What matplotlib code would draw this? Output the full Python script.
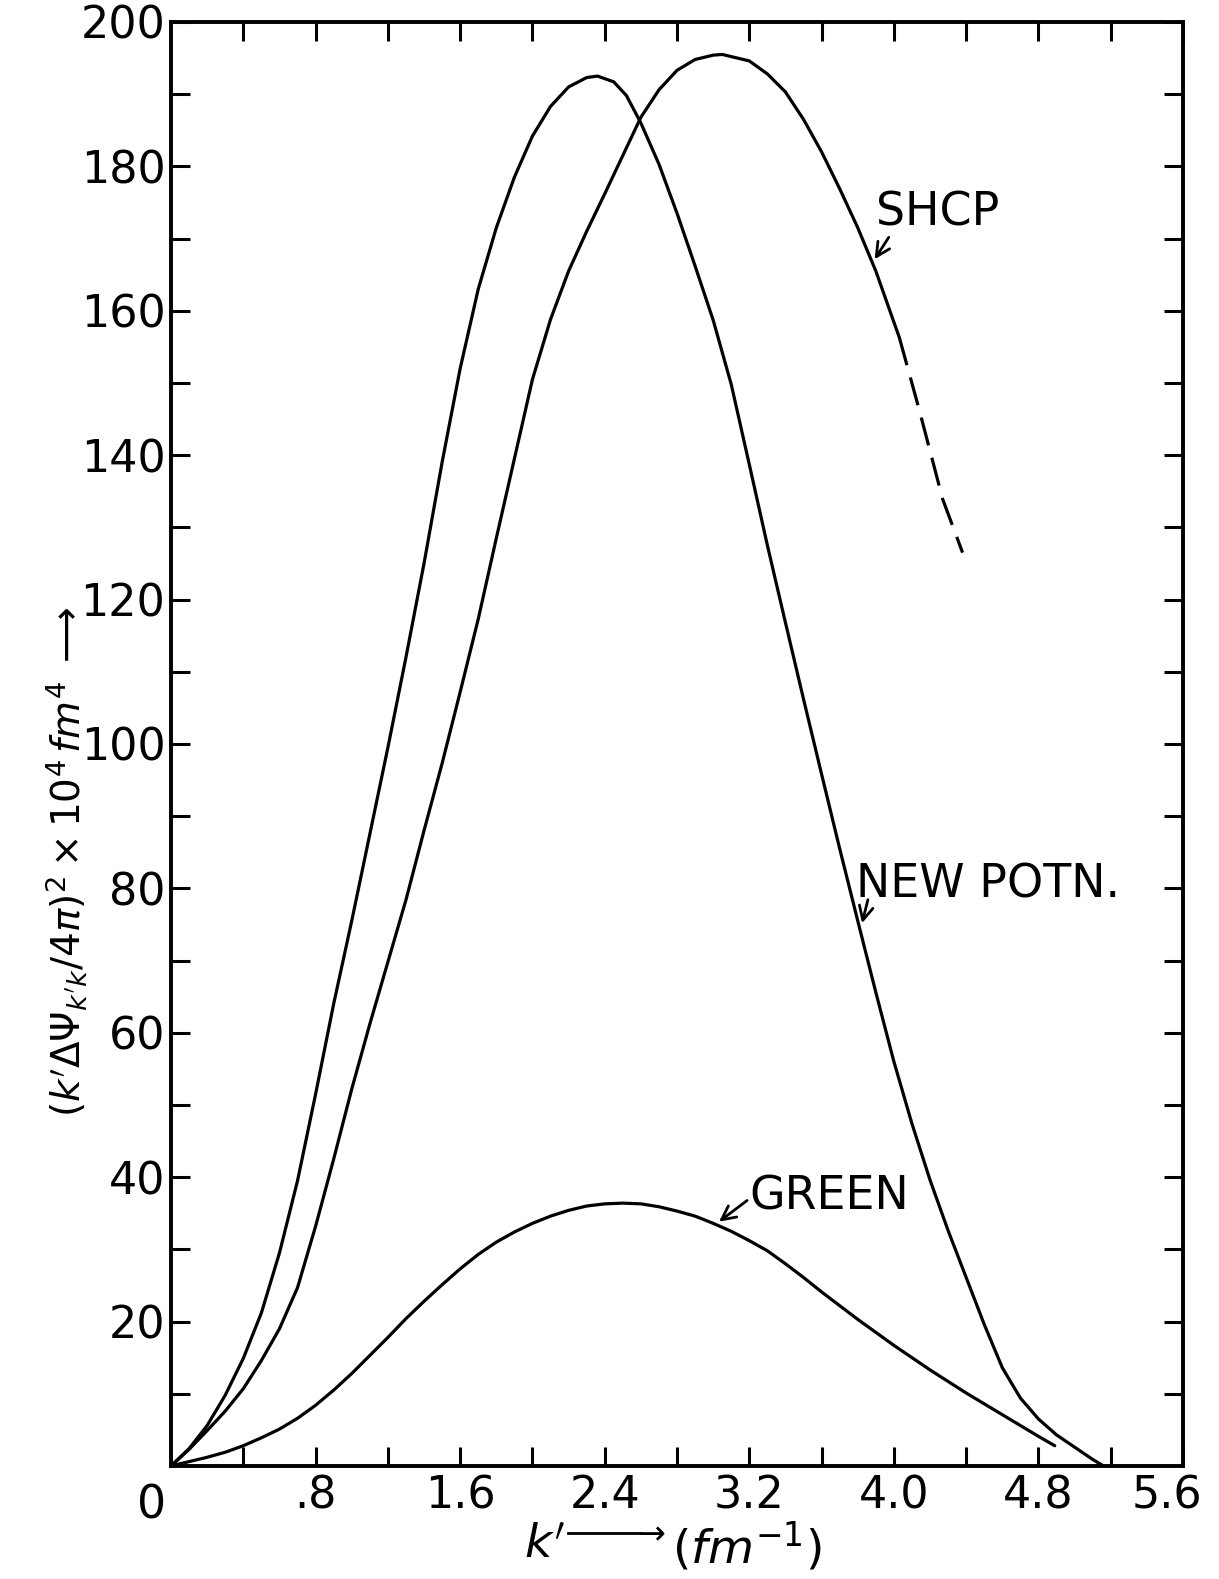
import matplotlib
matplotlib.use('Agg')
import matplotlib.pyplot as plt
from matplotlib.transforms import ScaledTranslation

# curves (k' in fm^-1, value x 10^4 fm^4)
new_k = [0, 0.1, 0.2, 0.3, 0.4, 0.5, 0.6, 0.7, 0.8, 0.9, 1.0, 1.1, 1.2, 1.3, 1.4, 1.5,
         1.6, 1.7, 1.8, 1.9, 2.0, 2.1, 2.2, 2.3, 2.36, 2.45, 2.52, 2.6, 2.7, 2.8, 2.9,
         3.0, 3.1, 3.2, 3.3, 3.4, 3.5, 3.6, 3.7, 3.8, 3.9, 4.0, 4.1, 4.2, 4.3, 4.4,
         4.5, 4.6, 4.7, 4.8, 4.9, 5.0, 5.1, 5.16]
new_v = [0, 2.4, 5.6, 9.8, 14.9, 21.2, 29.5, 39.5, 51.5, 64.0, 75.5, 87.5, 99.5, 112.0,
         125.0, 139.0, 152.0, 163.0, 171.5, 178.5, 184.2, 188.3, 191.0, 192.3, 192.5,
         191.7, 189.8, 186.0, 180.3, 173.5, 166.2, 158.7, 149.8, 138.7, 127.5, 116.8,
         106.2, 95.8, 85.5, 75.5, 65.6, 56.0, 47.4, 39.6, 32.6, 26.1, 19.6, 13.6, 9.4,
         6.5, 4.3, 2.6, 0.9, 0]

shcp_k = [0, 0.1, 0.2, 0.3, 0.4, 0.5, 0.6, 0.7, 0.8, 0.9, 1.0, 1.1, 1.2, 1.3, 1.4, 1.5,
          1.6, 1.7, 1.8, 1.9, 2.0, 2.1, 2.2, 2.3, 2.4, 2.5, 2.6, 2.7, 2.8, 2.9, 3.0,
          3.05, 3.2, 3.3, 3.4, 3.5, 3.6, 3.7, 3.8, 3.9, 4.03]
shcp_v = [0, 2.3, 4.9, 7.6, 10.7, 14.6, 19.0, 24.7, 33.2, 42.5, 52.2, 61.2, 69.8, 78.4,
          88.0, 97.3, 107.2, 117.3, 128.5, 139.5, 150.5, 158.8, 165.5, 171.0, 176.2,
          181.5, 186.8, 190.6, 193.3, 194.8, 195.4, 195.5, 194.6, 192.8, 190.3, 186.5,
          182.0, 176.9, 171.5, 165.5, 156.3]
# extrapolated (dashed) part of SHCP
shcp_dash_k = [4.03, 4.14, 4.27, 4.38]
shcp_dash_v = [156.3, 146.3, 133.9, 126.5]

green_k = [0, 0.1, 0.2, 0.3, 0.4, 0.5, 0.6, 0.7, 0.8, 0.9, 1.0, 1.1, 1.2, 1.3, 1.4, 1.5,
           1.6, 1.7, 1.8, 1.9, 2.0, 2.1, 2.2, 2.3, 2.4, 2.5, 2.6, 2.7, 2.8, 2.9, 3.0,
           3.1, 3.2, 3.3, 3.4, 3.5, 3.6, 3.7, 3.8, 3.9, 4.0, 4.1, 4.2, 4.3, 4.4, 4.5,
           4.6, 4.7, 4.8, 4.89]
green_v = [0, 0.6, 1.2, 1.9, 2.8, 3.9, 5.1, 6.6, 8.4, 10.5, 12.8, 15.3, 17.8, 20.4,
           22.8, 25.1, 27.3, 29.3, 31.0, 32.4, 33.6, 34.6, 35.4, 36.0, 36.3, 36.4, 36.3,
           35.9, 35.3, 34.6, 33.6, 32.5, 31.2, 29.8, 28.0, 26.1, 24.1, 22.2, 20.3, 18.5,
           16.7, 15.0, 13.3, 11.7, 10.1, 8.6, 7.1, 5.6, 4.1, 2.8]

xticks = [0.8, 1.6, 2.4, 3.2, 4.0, 4.8, 5.6]
xticklabels = ['.8', '1.6', '2.4', '3.2', '4.0', '4.8', '5.6']
yticks = [20, 40, 60, 80, 100, 120, 140, 160, 180, 200]

plt.rcParams['font.family'] = ['DejaVu Sans']
plt.rcParams['mathtext.fontset'] = 'dejavusans'

fig = plt.figure(figsize=(12.19, 15.79), dpi=100)
ax = fig.add_axes([0.1403, 0.0716, 0.8302, 0.9145])

lw = 2.3
ax.plot(new_k, new_v, color='black', lw=lw, solid_capstyle='round')
ax.plot(shcp_k, shcp_v, color='black', lw=lw, solid_capstyle='round')
ax.plot(shcp_dash_k, shcp_dash_v, color='black', lw=lw, dashes=(9, 4))
ax.plot(green_k, green_v, color='black', lw=lw, solid_capstyle='round')

ax.set_xlim(0, 5.6)
ax.set_ylim(0, 200)

ax.set_xticks(xticks)
ax.set_xticklabels(xticklabels)
ax.set_xticks([0.4, 1.2, 2.0, 2.8, 3.6, 4.4, 5.2], minor=True)
ax.set_yticks(yticks)
ax.set_yticks(list(range(10, 200, 20)), minor=True)

for which in ('major', 'minor'):
    ax.tick_params(which=which, direction='in', length=14, width=2.2,
                   top=True, right=True, labelsize=32)
ax.tick_params(axis='x', pad=6)
ax.tick_params(axis='y', pad=4)
for s in ax.spines.values():
    s.set_linewidth(2.8)

# last x label sits a little left of its tick, as in the drawing
lab = ax.get_xticklabels()[-1]
lab.set_transform(lab.get_transform() + ScaledTranslation(-0.16, 0, fig.dpi_scale_trans))

# shared origin zero
ax.text(-0.11, -2.5, '0', fontsize=33, ha='center', va='top')

# curve labels
ax.text(3.9, 173.5, 'SHCP', fontsize=33, ha='left', va='center')
ax.annotate('', xy=(3.885, 166.8), xytext=(3.98, 170.5),
            arrowprops=dict(arrowstyle='->', lw=2, color='black', mutation_scale=25))
ax.text(3.79, 80.5, 'NEW POTN.', fontsize=33, ha='left', va='center')
ax.annotate('', xy=(3.82, 74.8), xytext=(3.86, 78.8),
            arrowprops=dict(arrowstyle='->', lw=2, color='black', mutation_scale=25))
ax.text(3.2, 37.3, 'GREEN', fontsize=33, ha='left', va='center')
ax.annotate('', xy=(3.02, 33.6), xytext=(3.2, 37.0),
            arrowprops=dict(arrowstyle='->', lw=2, color='black', mutation_scale=25))

# axis titles
fig.text(545 / 1219, 1 - 1546 / 1579, "$k'$", fontsize=34, ha='center', va='center')
fig.add_artist(plt.Line2D([568 / 1219, 640 / 1219], [1 - 1533 / 1579, 1 - 1533 / 1579],
                          color='black', lw=2))
fig.text(648 / 1219, 1 - 1533 / 1579, r'$\rightarrow$', fontsize=24, ha='center', va='center')
fig.text(672 / 1219, 1 - 1546 / 1579, r'$(fm^{-1})$', fontsize=34, ha='left', va='center')

fig.text(66 / 1219, 1 - 862 / 1579,
         r"$(k'\Delta\Psi_{k'k}/4\pi)^2\times10^4\,fm^4\;\longrightarrow$",
         fontsize=28, rotation=90, ha='center', va='center')

fig.savefig('out.png', dpi=100)
